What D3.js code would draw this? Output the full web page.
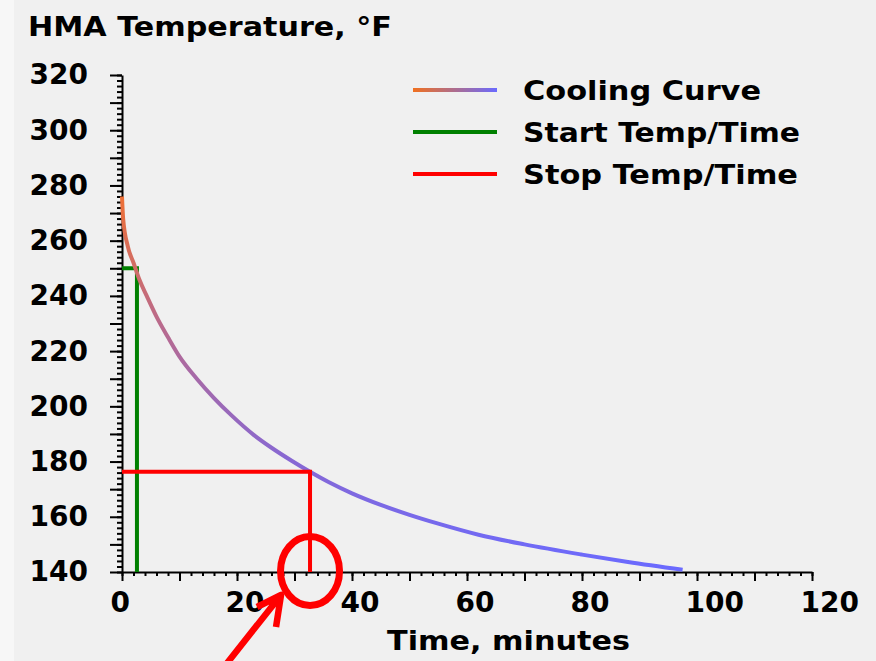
<!DOCTYPE html>
<html lang="en">
    <head>
        <meta charset="UTF-8">
        <script src="https://d3js.org/d3.v7.min.js"></script>
        <style>
            body { margin: 0; background: #f0f0f0; }
            text { font-family: "DejaVu Sans", sans-serif; font-weight: bold; fill: #000; }
            .axis path, .axis line { stroke: #000; stroke-width: 2; }
        </style>
    </head>
    <body>
        <svg width="876" height="661"></svg>

        <script>
            // cooling curve (time in minutes, temperature in °F)
            const timeMin = [0, 0.2, 1, 2, 3, 4.3, 6, 8, 10, 13, 16, 19, 23, 26, 29.5, 32.7, 36, 40, 45, 50, 55, 62, 70, 80, 88, 97.5];
            const tempF   = [276, 268, 258, 252, 246, 240, 232.5, 225, 218, 210, 203, 196.8, 189.5, 185, 180.3, 176.3, 172.5, 168.5, 164.3, 160.7, 157.5, 153.5, 150, 146.3, 143.6, 140.8];

            // start / stop markers
            const startPoint = { time: 2.6, temp: 250 };
            const stopPoint  = { time: 32.7, temp: 176.3 };

            const legendLabels = ["Cooling Curve", "Start Temp/Time", "Stop Temp/Time"];
            const xTicks = [0, 20, 40, 60, 80, 100, 120];
            const yTicks = [140, 160, 180, 200, 220, 240, 260, 280, 300, 320];

            const svg = d3.select("svg");

            // faint lighter strip on the left edge
            svg.append("rect").attr("width", 14).attr("height", 661).attr("fill", "#f7f7f7");

            const x = d3.scaleLinear().domain([0, 120]).range([122, 812]);
            const y = d3.scaleLinear().domain([140, 320]).range([572, 75]);

            // gradient for the cooling curve (by temperature)
            const defs = svg.append("defs");
            const grad = defs.append("linearGradient")
                .attr("id", "coolGrad")
                .attr("gradientUnits", "userSpaceOnUse")
                .attr("x1", 0).attr("x2", 0)
                .attr("y1", y(276)).attr("y2", y(140.8));
            [[0, "#ee7036"], [0.35, "#b86a8e"], [0.7, "#8868d2"], [1, "#6a6aff"]].forEach(s => {
                grad.append("stop").attr("offset", s[0]).attr("stop-color", s[1]);
            });
            const lgrad = defs.append("linearGradient").attr("id", "legGrad");
            lgrad.append("stop").attr("offset", 0).attr("stop-color", "#f07020");
            lgrad.append("stop").attr("offset", 1).attr("stop-color", "#6a6aff");

            // minor ticks
            svg.append("g").attr("class", "axis")
                .attr("transform", `translate(${x(0)},0)`)
                .call(d3.axisLeft(y).tickValues(d3.range(140, 321, 2)).tickSize(5).tickFormat("").tickSizeOuter(0))
                .select(".domain").remove();
            svg.append("g").attr("class", "axis")
                .attr("transform", `translate(0,${y(140)})`)
                .call(d3.axisBottom(x).tickValues(d3.range(0, 121, 2)).tickSize(4).tickFormat("").tickSizeOuter(0))
                .select(".domain").remove();

            // major ticks every 10, labels every 20
            const yAxis = svg.append("g").attr("class", "axis")
                .attr("transform", `translate(${x(0)},0)`)
                .call(d3.axisLeft(y).tickValues(d3.range(140, 321, 10)).tickSize(12).tickSizeOuter(0)
                    .tickPadding(22).tickFormat(d => yTicks.includes(d) ? d : ""));
            yAxis.selectAll("text").style("font-size", "28px");

            const xAxis = svg.append("g").attr("class", "axis")
                .attr("transform", `translate(0,${y(140)})`)
                .call(d3.axisBottom(x).tickValues(d3.range(0, 121, 10)).tickSize(9).tickSizeOuter(0)
                    .tickFormat(d => xTicks.includes(d) ? d : ""));
            xAxis.selectAll("text")
                .style("font-size", "28px")
                .attr("text-anchor", "start")
                .attr("x", -12)
                .attr("y", 40)
                .attr("dy", 0);
            yAxis.selectAll("text").attr("fill", "#000");
            xAxis.selectAll("text").attr("fill", "#000");

            // start temp/time
            svg.append("path")
                .attr("d", d3.line()([[x(0), y(startPoint.temp)], [x(startPoint.time), y(startPoint.temp)], [x(startPoint.time), y(140)]]))
                .attr("fill", "none").attr("stroke", "#008000").attr("stroke-width", 4);

            // cooling curve
            const pts = timeMin.map((t, i) => [x(t), y(tempF[i])]);
            svg.append("path")
                .attr("d", d3.line().curve(d3.curveMonotoneX)(pts))
                .attr("fill", "none").attr("stroke", "url(#coolGrad)").attr("stroke-width", 4);

            // stop temp/time
            svg.append("path")
                .attr("d", d3.line()([[x(0), y(stopPoint.temp)], [x(stopPoint.time), y(stopPoint.temp)], [x(stopPoint.time), y(140)]]))
                .attr("fill", "none").attr("stroke", "#ff0000").attr("stroke-width", 4);

            // titles
            svg.append("text").attr("x", 28).attr("y", 36)
                .style("font-size", "27px").attr("textLength", 364).attr("lengthAdjust", "spacingAndGlyphs")
                .text("HMA Temperature, °F");
            svg.append("text").attr("x", 387).attr("y", 650)
                .style("font-size", "27px").attr("textLength", 243).attr("lengthAdjust", "spacingAndGlyphs")
                .text("Time, minutes");

            // legend
            const legStroke = ["url(#legGrad)", "#008000", "#ff0000"];
            const legLen = [238, 277, 275];
            const leg = svg.append("g");
            legendLabels.forEach((lab, i) => {
                const ly = 90 + i * 42;
                leg.append("line").attr("x1", 413).attr("x2", 497).attr("y1", ly).attr("y2", ly + 0.01)
                    .attr("stroke", legStroke[i]).attr("stroke-width", 4);
                leg.append("text").attr("x", 523).attr("y", ly).attr("dy", "0.36em")
                    .style("font-size", "27px").attr("textLength", legLen[i]).attr("lengthAdjust", "spacingAndGlyphs")
                    .text(lab);
            });

            // annotation: circle and arrow at the stop time
            const cx = x(stopPoint.time), cy = y(140);
            svg.append("ellipse").attr("cx", cx).attr("cy", cy - 1).attr("rx", 29.5).attr("ry", 34.5)
                .attr("fill", "none").attr("stroke", "#ff0000").attr("stroke-width", 7);
            const tip = [cx - 29, cy + 23];
            svg.append("path")
                .attr("d", `M${cx - 86},${cy + 95}L${tip[0]},${tip[1]}M${tip[0] - 24},${tip[1] + 12}L${tip[0]},${tip[1]}L${tip[0] - 5},${tip[1] + 32}`)
                .attr("fill", "none").attr("stroke", "#ff0000").attr("stroke-width", 6.5)
                .attr("stroke-linejoin", "round");
        </script>
    </body>
</html>
